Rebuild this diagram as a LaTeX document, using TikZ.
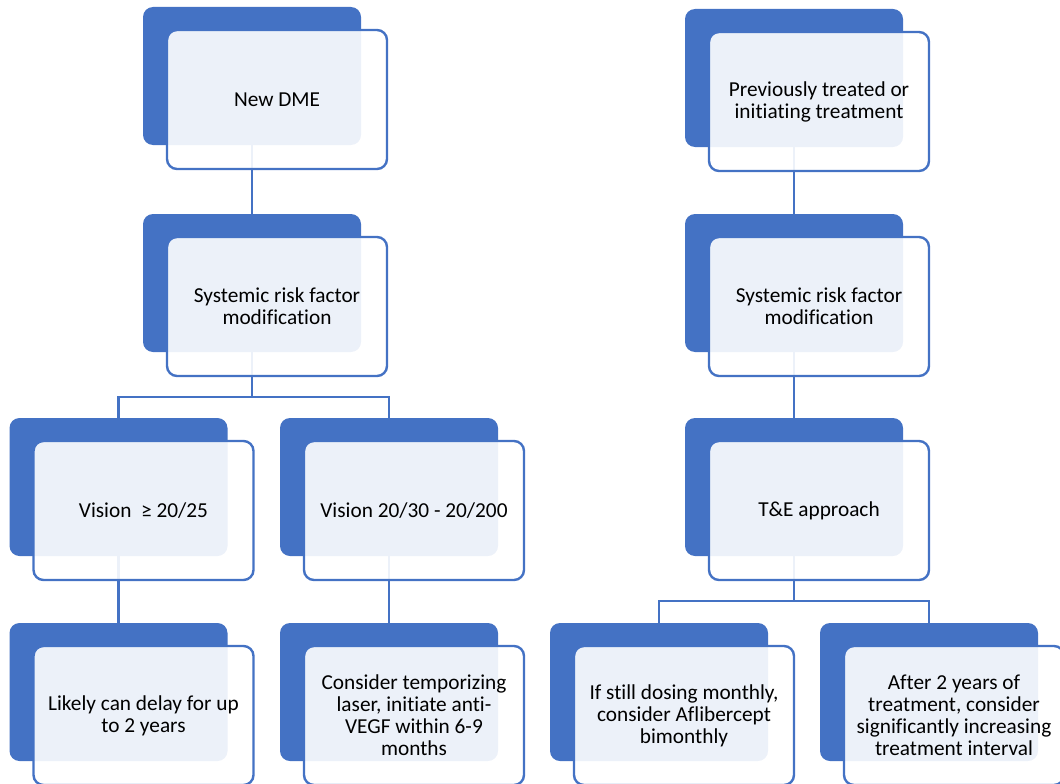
\documentclass[tikz,border=0pt]{standalone}
\usepackage{fontspec}
\setmainfont[Ligatures=NoCommon]{Carlito}
\definecolor{dmeblue}{HTML}{4472C4}

\begin{document}
\begin{tikzpicture}[x=1pt,y=-1pt,
	back/.style={fill=dmeblue, rounded corners=10pt, inner sep=0pt, minimum width=218pt, minimum height=138pt},
	front/.style={draw=dmeblue, line width=2.4pt, fill=white, fill opacity=0.9, text opacity=1, rounded corners=10pt, inner sep=2pt, minimum width=220pt, minimum height=139pt, align=center, font=\fontsize{21.3}{22}\selectfont},
	link/.style={draw=dmeblue, line width=2.2pt}]
			\useasboundingbox (0,0) rectangle (1060,784);
			\clip (0,0) rectangle (1060,784);
			% back boxes
			\node[back] (dme) at (252, 76) {};
			\node[back] (sysl) at (252, 283) {};
			\node[back] (visa) at (118.5, 487) {};
			\node[back] (visb) at (389, 487) {};
			\node[back] (delay) at (118.5, 692) {};
			\node[back] (laser) at (389, 692) {};
			\node[back] (prev) at (794, 78) {};
			\node[back] (sysr) at (794, 283) {};
			\node[back] (te) at (794, 487) {};
			\node[back] (afl) at (659, 692) {};
			\node[back] (after) at (929, 692) {};
			% connectors
			\draw[link] (dme) -- (sysl);
			\draw[link] (sysl.south) -- ++(0,45) -| (visa.north);
			\draw[link] (sysl.south) -- ++(0,45) -| (visb.north);
			\draw[link] (visa) -- (delay);
			\draw[link] (visb) -- (laser);
			\draw[link] (prev) -- (sysr);
			\draw[link] (sysr) -- (te);
			\draw[link] (te.south) -- ++(0,45) -| (afl.north);
			\draw[link] (te.south) -- ++(0,45) -| (after.north);
			% front boxes
			\node[front] (dmef) at ([shift={(25,23.5)}]dme.center) {New DME};
			\node[front] (syslf) at ([shift={(25,23.5)}]sysl.center) {Systemic risk factor\\modification};
			\node[front] (visaf) at ([shift={(25,23.5)}]visa.center) {Vision\ \ ≥ 20/25};
			\node[front] (visbf) at ([shift={(25,23.5)}]visb.center) {Vision 20/30 - 20/200};
			\node[front] (delayf) at ([shift={(25,23.5)}]delay.center) {Likely can delay for up\\to 2 years};
			\node[front] (laserf) at ([shift={(25,23.5)}]laser.center) {Consider temporizing\\laser, initiate anti-\\VEGF within 6-9\\months};
			\node[front] (prevf) at ([shift={(25,23.5)}]prev.center) {Previously treated or\\initiating treatment};
			\node[front] (sysrf) at ([shift={(25,23.5)}]sysr.center) {Systemic risk factor\\modification};
			\node[front] (tef) at ([shift={(25,23.5)}]te.center) {T\&E approach};
			\node[front] (aflf) at ([shift={(25,23.5)}]afl.center) {If still dosing monthly,\\consider Aflibercept\\bimonthly};
			\node[front] (afterf) at ([shift={(25,23.5)}]after.center) {After 2 years of\\treatment, consider\\significantly increasing\\treatment interval};
\end{tikzpicture}
\end{document}
